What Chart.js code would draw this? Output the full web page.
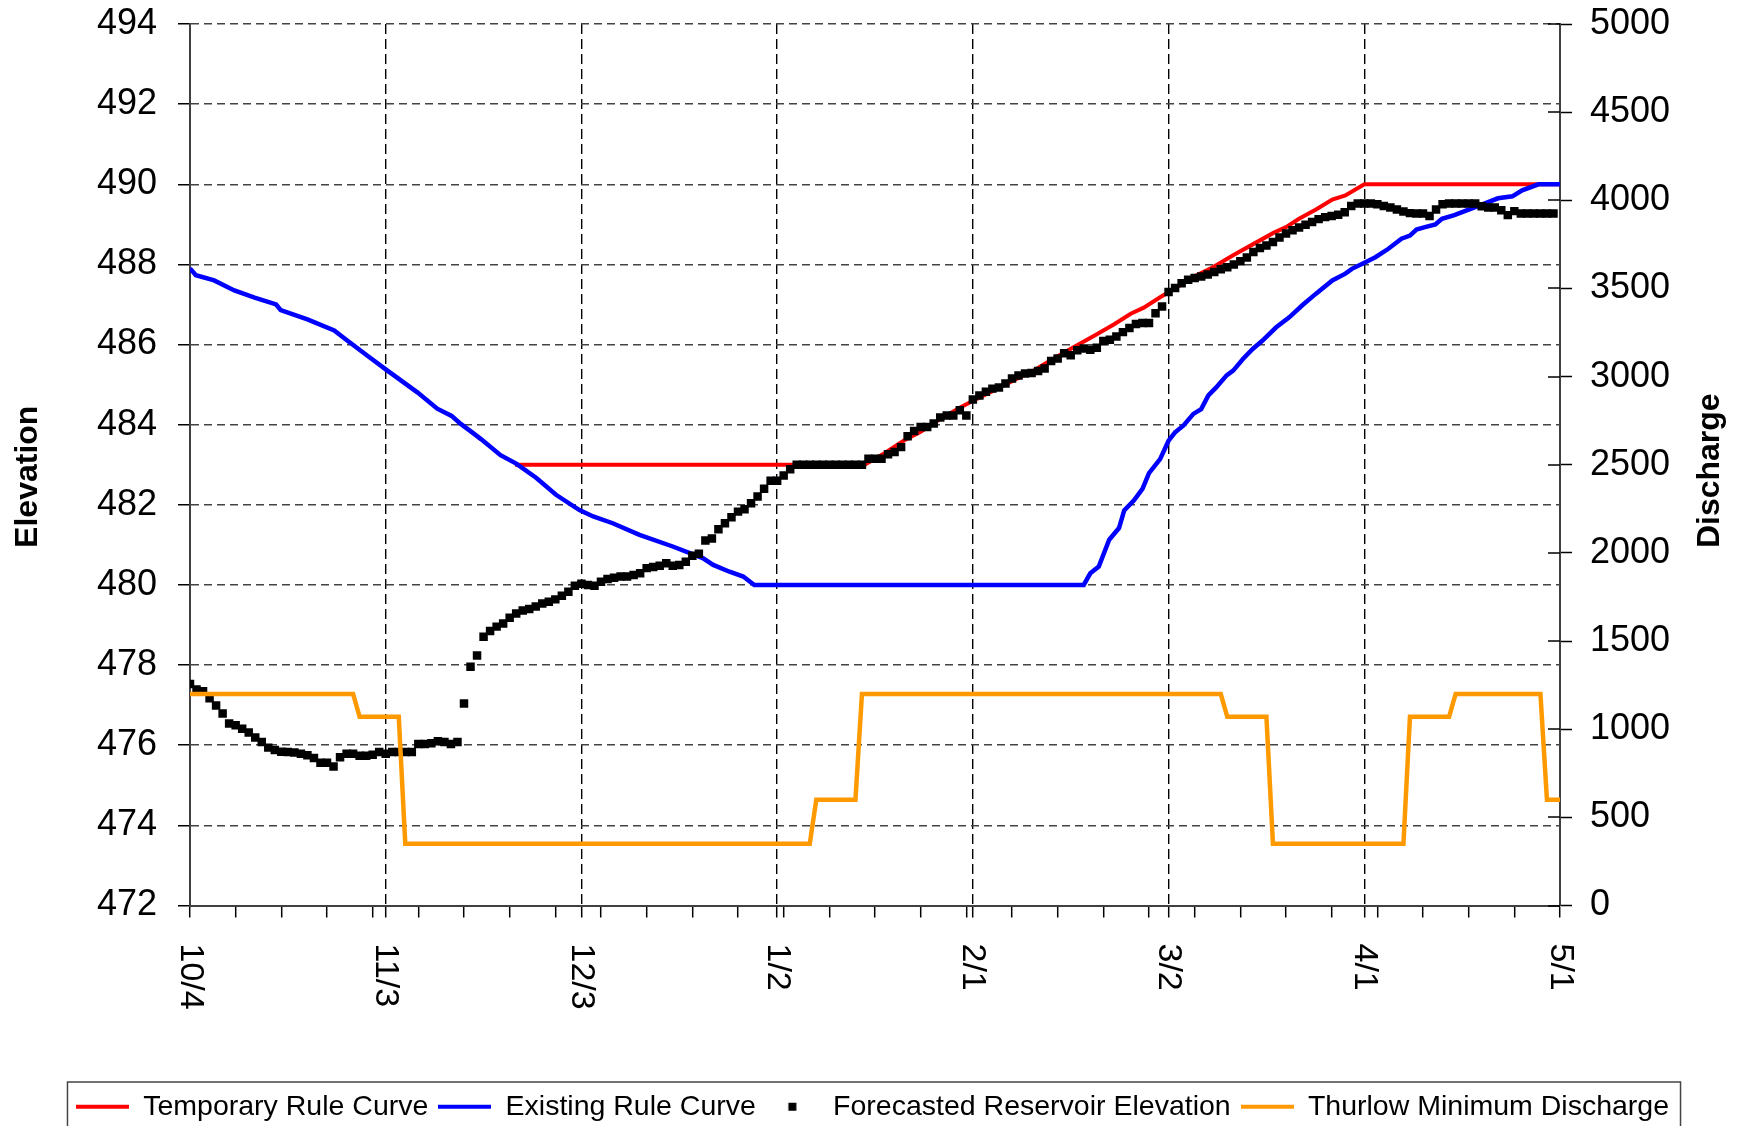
<!DOCTYPE html>
<html>
<head>
<meta charset="utf-8">
<title>Reservoir Elevation and Discharge</title>
<script src="https://cdn.jsdelivr.net/npm/chart.js@4.4.1/dist/chart.umd.min.js"></script>
<style>
  html, body { margin: 0; padding: 0; background: #fff; }
  #chart { display: block; }
</style>
</head>
<body>
<canvas id="chart" width="1745" height="1126"></canvas>
<script>
// x axis is days since 10/4
const xTickDays = [0, 30, 60, 90, 120, 150, 180, 210];
const xTickLabels = ['10/4', '11/3', '12/3', '1/2', '2/1', '3/2', '4/1', '5/1'];

// Temporary Rule Curve (elevation)
const tempRuleDays = [49.8, 103.4, 106.4, 109.5, 112.0, 115.1, 118.2, 120.2, 123.3, 126.3,
    129.4, 132.4, 135.5, 138.6, 141.6, 144.2, 146.2, 148.7, 151.8, 154.3,
    156.8, 159.9, 162.9, 166.0, 168.0, 170.0, 172.6, 175.1, 177.1, 180.0, 210.0];
const tempRuleElev = [483.0, 483.0, 483.28, 483.61, 483.82, 484.15, 484.44, 484.61, 484.86, 485.11,
    485.36, 485.65, 485.94, 486.22, 486.5, 486.77, 486.92, 487.18, 487.48, 487.73,
    487.93, 488.23, 488.5, 488.78, 488.93, 489.14, 489.37, 489.62, 489.72, 490.0, 490.0];

// Existing Rule Curve (elevation)
const existRuleDays = [0, 0.9, 3.7, 6.8, 9.9, 13.2, 13.9, 18.0, 22.1, 24.1,
    27.2, 30.0, 34.9, 37.9, 40.1, 41.5, 43.4, 44.6, 47.6, 50.0,
    53.1, 56.1, 59.7, 61.8, 64.8, 68.9, 74.0, 78.6, 80.2, 82.7,
    84.8, 86.5, 137.0, 138.0, 139.3, 140.9, 142.4, 143.2, 144.7, 146.0,
    147.0, 148.7, 150.0, 151.0, 152.3, 153.8, 155.0, 156.1, 157.3, 158.9,
    159.9, 161.4, 162.9, 164.4, 166.5, 168.5, 170.5, 172.6, 175.1, 177.1,
    178.1, 180.1, 181.7, 183.7, 185.7, 187.0, 188.0, 189.3, 190.9, 191.9,
    193.8, 195.1, 196.4, 198.1, 200.5, 202.7, 204.2, 206.7, 210.0];
const existRuleElev = [487.9, 487.73, 487.6, 487.35, 487.17, 487.0, 486.86, 486.63, 486.35, 486.1,
    485.72, 485.38, 484.8, 484.4, 484.22, 484.02, 483.79, 483.64, 483.24, 483.03,
    482.67, 482.25, 481.87, 481.71, 481.54, 481.25, 480.96, 480.67, 480.5, 480.33,
    480.21, 480.0, 480.0, 480.29, 480.46, 481.13, 481.42, 481.86, 482.11, 482.4,
    482.79, 483.14, 483.6, 483.81, 483.98, 484.27, 484.39, 484.73, 484.93, 485.23,
    485.35, 485.64, 485.89, 486.1, 486.43, 486.68, 486.98, 487.27, 487.6, 487.77,
    487.89, 488.05, 488.18, 488.39, 488.64, 488.72, 488.87, 488.93, 489.0, 489.14,
    489.23, 489.31, 489.39, 489.5, 489.65, 489.7, 489.85, 490.0, 490.0];

// Forecasted Reservoir Elevation, one value per day starting 10/4
const forecastElev = [
    477.53, 477.39, 477.35, 477.17, 476.99, 476.79, 476.54, 476.50, 476.41, 476.32,
    476.19, 476.08, 475.94, 475.88, 475.84, 475.83, 475.82, 475.79, 475.75, 475.68,
    475.56, 475.56, 475.47, 475.70, 475.79, 475.79, 475.74, 475.74, 475.76, 475.83,
    475.79, 475.83, 475.83, 475.83, 475.83, 476.03, 476.03, 476.05, 476.10, 476.08,
    476.03, 476.08, 477.04, 477.96, 478.24, 478.71, 478.85, 478.96, 479.04, 479.18,
    479.29, 479.36, 479.40, 479.46, 479.54, 479.58, 479.64, 479.73, 479.83, 479.98,
    480.03, 480.00, 479.98, 480.08, 480.15, 480.18, 480.21, 480.21, 480.25, 480.29,
    480.42, 480.45, 480.48, 480.54, 480.48, 480.50, 480.58, 480.73, 480.78, 481.11,
    481.16, 481.39, 481.54, 481.69, 481.83, 481.89, 482.04, 482.21, 482.40, 482.60,
    482.60, 482.73, 482.89, 483.00, 483.00, 483.00, 483.00, 483.00, 483.00, 483.00,
    483.00, 483.00, 483.00, 483.00, 483.15, 483.15, 483.15, 483.26, 483.32, 483.44,
    483.71, 483.84, 483.94, 483.94, 484.03, 484.18, 484.23, 484.23, 484.36, 484.23,
    484.63, 484.73, 484.82, 484.90, 484.93, 485.03, 485.15, 485.23, 485.28, 485.29,
    485.34, 485.40, 485.59, 485.65, 485.78, 485.73, 485.86, 485.90, 485.87, 485.92,
    486.09, 486.12, 486.20, 486.31, 486.41, 486.51, 486.54, 486.54, 486.78, 486.95,
    487.31, 487.41, 487.53, 487.62, 487.66, 487.70, 487.75, 487.81, 487.88, 487.93,
    488.00, 488.08, 488.17, 488.31, 488.41, 488.47, 488.56, 488.67, 488.77, 488.85,
    488.92, 488.99, 489.06, 489.13, 489.18, 489.21, 489.24, 489.30, 489.46, 489.52,
    489.52, 489.52, 489.50, 489.46, 489.42, 489.37, 489.32, 489.28, 489.27, 489.27,
    489.21, 489.37, 489.50, 489.52, 489.52, 489.52, 489.52, 489.52, 489.45, 489.42,
    489.42, 489.35, 489.23, 489.33, 489.27, 489.27, 489.27, 489.27, 489.27, 489.27
];

// Thurlow Minimum Discharge (right axis)
const thurlowDays = [0, 25, 26, 32, 33, 95, 96, 102, 103, 158, 159, 165, 166, 186, 187, 193, 194, 207, 208, 210];
const thurlowFlow = [1200, 1200, 1070, 1070, 350, 350, 600, 600, 1200, 1200, 1070, 1070, 350, 350, 1070, 1070, 1200, 1200, 600, 600];

const FONT = '"Liberation Sans", Arial, sans-serif';

const toPoints = (xs, ys) => xs.map((x, i) => ({ x: x, y: ys[i] }));

// minor ticks every 7 days plus the 30 day majors
const xTickValues = [];
for (let d = 0; d <= 210; d += 7) xTickValues.push(d);
xTickDays.forEach(d => { if (!xTickValues.includes(d)) xTickValues.push(d); });
xTickValues.sort((a, b) => a - b);

// little canvases used as legend markers
function legendSample(color, square) {
    const c = document.createElement('canvas');
    c.width = 53;
    c.height = 12;
    const g = c.getContext('2d');
    g.fillStyle = color;
    if (square) g.fillRect(22.5, 2, 8, 8);
    else g.fillRect(0, 4, 53, 4);
    return c;
}
const legendSamples = [
    legendSample('#ff0000', false),
    legendSample('#0000ff', false),
    legendSample('#000000', true),
    legendSample('#ff9900', false)
];

// fixed axis widths, and no extra room above/below for the end labels
function fixWidth(w) {
    return scale => {
        scale.width = w;
        scale.paddingTop = 0;
        scale.paddingBottom = 0;
    };
}

function rotatedText(ctx, text, x, y, angle) {
    ctx.save();
    ctx.translate(x, y);
    ctx.rotate(angle);
    ctx.fillText(text, 0, 0);
    ctx.restore();
}

// stuff chart.js can't do directly: downward x labels, crossing ticks, axis titles, legend frame
const extrasPlugin = {
    id: 'extras',
    afterDraw(chart) {
        const { ctx, chartArea, scales } = chart;
        ctx.save();

        ctx.fillStyle = '#000';
        ctx.font = '34px ' + FONT;
        ctx.textAlign = 'left';
        ctx.textBaseline = 'middle';
        xTickDays.forEach((d, i) => {
            rotatedText(ctx, xTickLabels[i], scales.x.getPixelForValue(d), chartArea.bottom + 38, Math.PI / 2);
        });

        ctx.strokeStyle = '#000';
        ctx.lineWidth = 1.5;
        scales.y2.ticks.forEach(t => {
            const py = Math.round(scales.y2.getPixelForValue(t.value));
            ctx.beginPath();
            ctx.moveTo(chartArea.right - 12, py);
            ctx.lineTo(chartArea.right, py);
            ctx.stroke();
        });

        const midY = (chartArea.top + chartArea.bottom) / 2;
        ctx.font = 'bold 32px ' + FONT;
        ctx.textAlign = 'center';
        rotatedText(ctx, 'Elevation', 28, midY + 12, -Math.PI / 2);
        rotatedText(ctx, 'Discharge', 1710, midY + 6, -Math.PI / 2);

        const boxes = chart.legend.legendHitBoxes;
        if (boxes && boxes.length) {
            const left = Math.min(...boxes.map(b => b.left)) - 9;
            const right = Math.max(...boxes.map(b => b.left + b.width)) + 11;
            const top = chart.legend.top - 1;
            ctx.strokeStyle = '#444';
            ctx.lineWidth = 1.5;
            ctx.strokeRect(left + 0.5, top + 0.5, right - left, 80);
        }
        ctx.restore();
    }
};

new Chart(document.getElementById('chart'), {
    type: 'line',
    data: {
        datasets: [
            {
                label: 'Temporary Rule Curve',
                data: toPoints(tempRuleDays, tempRuleElev),
                yAxisID: 'y',
                borderColor: '#ff0000',
                borderWidth: 4,
                pointRadius: 0,
                order: 4
            },
            {
                label: 'Existing Rule Curve',
                data: toPoints(existRuleDays, existRuleElev),
                yAxisID: 'y',
                borderColor: '#0000ff',
                borderWidth: 4.5,
                pointRadius: 0,
                order: 3
            },
            {
                label: 'Forecasted Reservoir Elevation',
                data: forecastElev.map((v, i) => ({ x: i, y: v })),
                yAxisID: 'y',
                showLine: false,
                pointStyle: 'rect',
                pointRadius: 6,
                pointBorderWidth: 0,
                pointBackgroundColor: '#000',
                backgroundColor: '#000',
                borderColor: '#000',
                order: 2
            },
            {
                label: 'Thurlow Minimum Discharge',
                data: toPoints(thurlowDays, thurlowFlow),
                yAxisID: 'y2',
                borderColor: '#ff9900',
                borderWidth: 4.5,
                pointRadius: 0,
                order: 1
            }
        ]
    },
    options: {
        responsive: false,
        animation: false,
        layout: { padding: { top: 24, right: 0, bottom: -5, left: 0 } },
        plugins: {
            tooltip: { enabled: false },
            legend: {
                position: 'bottom',
                labels: {
                    usePointStyle: true,
                    pointStyleWidth: 53,
                    padding: 10,
                    color: '#000',
                    font: { family: FONT, size: 28.5 },
                    sort: (a, b) => a.datasetIndex - b.datasetIndex,
                    generateLabels(chart) {
                        const items = Chart.defaults.plugins.legend.labels.generateLabels(chart);
                        items.forEach(item => { item.pointStyle = legendSamples[item.datasetIndex]; });
                        return items;
                    }
                }
            }
        },
        scales: {
            x: {
                type: 'linear',
                min: 0,
                max: 210,
                afterBuildTicks: scale => { scale.ticks = xTickValues.map(v => ({ value: v })); },
                afterFit: scale => { scale.height = 177; },
                ticks: { display: false },
                grid: {
                    color: c => (c.tick && c.tick.value % 30 === 0 && c.tick.value > 0 && c.tick.value < 210) ? '#000' : 'rgba(0,0,0,0)',
                    lineWidth: 1.4,
                    tickLength: 12,
                    tickColor: '#000',
                    tickWidth: 1.5,
                    tickBorderDash: []
                },
                border: { color: '#404040', width: 2, dash: [10, 5] }
            },
            y: {
                position: 'left',
                min: 472,
                max: 494,
                afterFit: fixWidth(190),
                ticks: {
                    stepSize: 2,
                    autoSkip: false,
                    padding: 21,
                    color: '#000',
                    font: { family: FONT, size: 36 },
                    callback: v => String(v)
                },
                grid: {
                    color: c => (c.tick && c.tick.value === 472) ? 'rgba(0,0,0,0)' : '#444',
                    lineWidth: 1.5,
                    tickLength: 12,
                    tickColor: '#000',
                    tickWidth: 1.5,
                    tickBorderDash: []
                },
                border: { color: '#404040', width: 2, dash: [8, 5] }
            },
            y2: {
                position: 'right',
                min: 0,
                max: 5000,
                afterFit: fixWidth(185),
                ticks: {
                    stepSize: 500,
                    autoSkip: false,
                    padding: 18,
                    color: '#000',
                    font: { family: FONT, size: 36 },
                    callback: v => String(v)
                },
                grid: {
                    drawOnChartArea: false,
                    tickLength: 12,
                    tickColor: '#000',
                    tickWidth: 1.5
                },
                border: { color: '#404040', width: 2 }
            }
        }
    },
    plugins: [extrasPlugin]
});
</script>
</body>
</html>
